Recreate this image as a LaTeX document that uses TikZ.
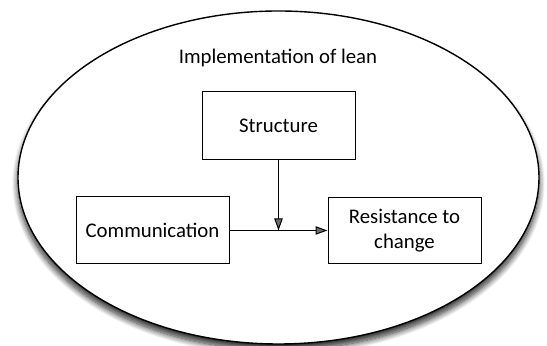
\documentclass[tikz,border=0pt]{standalone}
\usepackage{fontspec}
\setmainfont{Carlito}
\usetikzlibrary{arrows.meta,shadows.blur}
\begin{document}
\begin{tikzpicture}[x=0.5pt,y=-0.5pt,
  every node/.style={font=\fontsize{10.4}{12.5}\selectfont},
  factor/.style={draw, line width=0.5pt, fill=white, minimum width=76.5pt, inner sep=0pt, align=center},
  link/.style={line width=0.5pt, -{Triangle[length=6pt,width=4.2pt]}}]
  \useasboundingbox (0,0) rectangle (547,346);
  % enclosing ellipse with soft drop shadow
  \path[draw=black, line width=0.7pt, fill=white,
        blur shadow={shadow xshift=0pt, shadow yshift=-3pt, shadow blur radius=3pt, shadow blur steps=12, shadow opacity=85}]
    (278.5,177.5) ellipse [x radius=260.5, y radius=166.5];
  \node (title) at (278,58) {Implementation of lean};
  \node[factor, minimum height=34pt] (struct) at (278.5,126) {Structure};
  \node[factor, minimum height=33.5pt] (comm) at (152.5,230.5) {Communication};
  \node[factor, minimum height=33pt] (resist) at (404.5,230.5) {Resistance to\\change};
  \coordinate (join) at (struct.south |- comm.east);
  \draw[link] (comm.east) -- (resist.west);
  \draw[link] (struct.south) -- (join);
\end{tikzpicture}
\end{document}
